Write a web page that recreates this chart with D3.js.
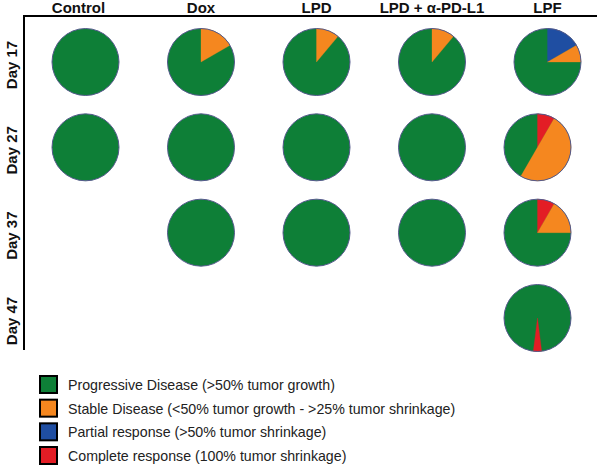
<!DOCTYPE html>
<html>
<head>
<meta charset="utf-8">
<script src="https://cdn.jsdelivr.net/npm/d3@7/dist/d3.min.js"></script>
<style>
  html, body { margin: 0; padding: 0; background: #fff; }
  svg { display: block; }
</style>
</head>
<body>
<svg id="chart" width="597" height="468"></svg>
<script>
// ---------- data ----------
const groups = ["Control", "Dox", "LPD", "LPD + α-PD-L1", "LPF"];
const days = ["Day 17", "Day 27", "Day 37", "Day 47"];
const categories = [
  "Progressive Disease (>50% tumor growth)",
  "Stable Disease (<50% tumor growth - >25% tumor shrinkage)",
  "Partial response (>50% tumor shrinkage)",
  "Complete response (100% tumor shrinkage)"
];
const catKeys = ["PD", "SD", "PR", "CR"];
const catColors = ["#0e7f37", "#f5871f", "#1f4ea2", "#e31d25"];

// slices listed clockwise from 12 o'clock: [category, share]
const controlPies = [[["PD", 1]], [["PD", 1]], null, null];
const doxPies     = [[["SD", 1], ["PD", 5]], [["PD", 1]], [["PD", 1]], null];
const lpdPies     = [[["SD", 1], ["PD", 8]], [["PD", 1]], [["PD", 1]], null];
const lpdAbPies   = [[["SD", 1], ["PD", 8]], [["PD", 1]], [["PD", 1]], null];
const lpfPies     = [
  [["PR", 2], ["SD", 1], ["PD", 9]],
  [["CR", 1], ["SD", 6], ["PD", 5]],
  [["CR", 1], ["SD", 2], ["PD", 9]],
  [["PD", 12], ["CR", 1], ["PD", 12]]
];
const pieTable = [controlPies, doxPies, lpdPies, lpdAbPies, lpfPies];

// ---------- layout ----------
const svg = d3.select("#chart");
const font = "'Liberation Sans', Arial, Helvetica, sans-serif";
const R = 33.5;

const x = d3.scalePoint().domain(groups).range([85.5, 547.5]);
const y = d3.scalePoint().domain(days).range([62, 318]);
const color = d3.scaleOrdinal().domain(catKeys).range(catColors);

// frame lines
svg.append("line").attr("x1", 23).attr("x2", 597).attr("y1", 16).attr("y2", 16)
  .attr("stroke", "#000").attr("stroke-width", 2);
svg.append("line").attr("x1", 24).attr("x2", 24).attr("y1", 15).attr("y2", 350)
  .attr("stroke", "#000").attr("stroke-width", 2);

// column headers
svg.selectAll("text.hdr").data(groups).enter().append("text")
  .attr("class", "hdr")
  .attr("x", (d, i) => x(d) + (i === 0 ? -7 : 0))
  .attr("y", 12.5)
  .attr("text-anchor", "middle")
  .attr("font-family", font).attr("font-weight", "bold").attr("font-size", 15)
  .attr("fill", "#111")
  .text(d => d);

// row labels
svg.selectAll("text.day").data(days).enter().append("text")
  .attr("class", "day")
  .attr("transform", d => `translate(17,${y(d) + 3}) rotate(-90)`)
  .attr("text-anchor", "middle")
  .attr("font-family", font).attr("font-weight", "bold").attr("font-size", 15)
  .attr("fill", "#111")
  .text(d => d);

// pies
const pie = d3.pie().sort(null).value(d => d[1]);
const arc = d3.arc().innerRadius(0).outerRadius(R);

groups.forEach((g, gi) => {
  days.forEach((dy, di) => {
    const slices = pieTable[gi][di];
    if (!slices) return;
    const nudge = (g === "LPF" && di > 0) ? -10 : 0;
    const cell = svg.append("g")
      .attr("transform", `translate(${x(g) + nudge},${y(dy)})`);
    // base disc in the majority colour avoids hairline seams between slices
    cell.append("circle").attr("r", R).attr("fill", color("PD"));
    cell.selectAll("path").data(pie(slices).filter(d => d.data[0] !== "PD"))
      .enter().append("path")
      .attr("d", arc)
      .attr("fill", d => color(d.data[0]))
      .attr("stroke", d => color(d.data[0]))
      .attr("stroke-width", 0.3);
    cell.append("circle").attr("r", R)
      .attr("fill", "none").attr("stroke", "#55598c").attr("stroke-width", 1);
  });
});

// legend
const legend = svg.append("g").attr("transform", "translate(40,376)");
const ly = d3.scalePoint().domain(categories).range([0, 71]);
const items = legend.selectAll("g").data(categories).enter().append("g")
  .attr("transform", d => `translate(0,${ly(d)})`);
items.append("rect")
  .attr("x", 0).attr("y", 0).attr("width", 17).attr("height", 17)
  .attr("fill", (d, i) => catColors[i])
  .attr("stroke", "#000").attr("stroke-width", 2);
items.append("text")
  .attr("x", 28).attr("y", 14)
  .attr("font-family", font).attr("font-size", 14.2)
  .attr("fill", "#222")
  .text(d => d);
</script>
</body>
</html>
